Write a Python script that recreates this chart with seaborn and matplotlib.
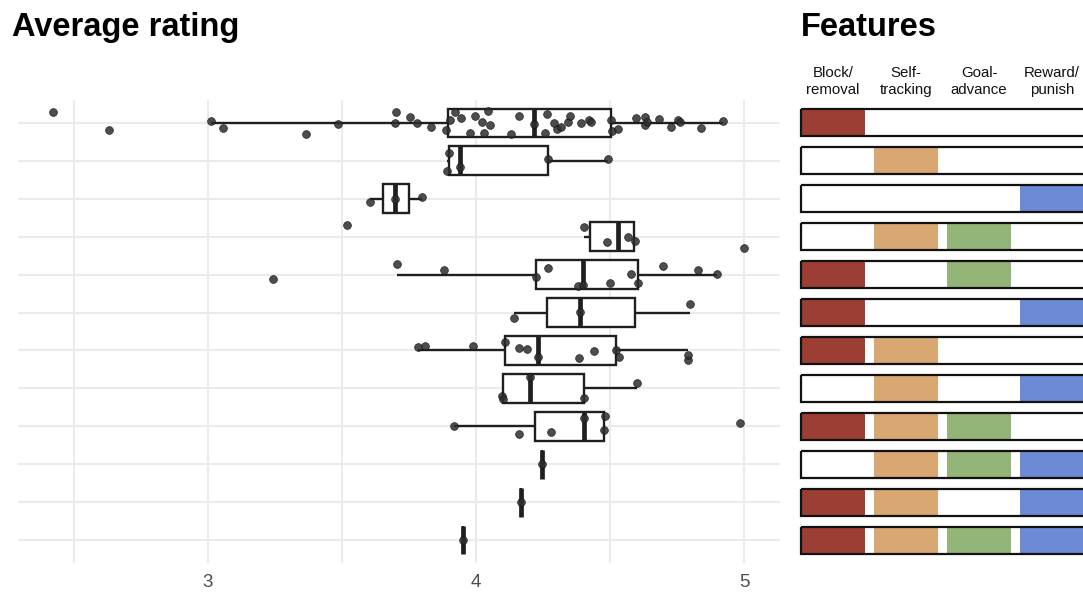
import numpy as np
import pandas as pd
import matplotlib
matplotlib.use("Agg")
import matplotlib.pyplot as plt
import matplotlib.transforms as mtransforms
import seaborn as sns

# ---- data -------------------------------------------------------------
features = ["Block/\nremoval", "Self-\ntracking", "Goal-\nadvance", "Reward/\npunish"]
feature_colors = ["#9C3E33", "#D8A772", "#93B577", "#6D8AD6"]

# which features each app combination has (Block, Self, Goal, Reward)
combos = [
    ("block", [1, 0, 0, 0]),
    ("track", [0, 1, 0, 0]),
    ("reward", [0, 0, 0, 1]),
    ("track+goal", [0, 1, 1, 0]),
    ("block+goal", [1, 0, 1, 0]),
    ("block+reward", [1, 0, 0, 1]),
    ("block+track", [1, 1, 0, 0]),
    ("track+reward", [0, 1, 0, 1]),
    ("block+track+goal", [1, 1, 1, 0]),
    ("track+goal+reward", [0, 1, 1, 1]),
    ("block+track+reward", [1, 1, 0, 1]),
    ("all", [1, 1, 1, 1]),
]

# average app rating per combination
r_block = [2.421, 2.632, 3.01, 3.057, 3.368, 3.486, 3.699, 3.703, 3.755, 3.781,
           3.833, 3.890, 3.905, 3.923, 3.946, 3.979, 3.995, 4.021, 4.031, 4.046,
           4.052, 4.132, 4.161, 4.215, 4.258, 4.265, 4.292, 4.303, 4.317, 4.345,
           4.350, 4.390, 4.423, 4.428, 4.502, 4.509, 4.528, 4.596, 4.629, 4.629,
           4.639, 4.682, 4.729, 4.752, 4.761, 4.841, 4.92]
r_track = [3.893, 3.899, 3.941, 4.267, 4.492]
r_reward = [3.605, 3.699, 3.799]
r_track_goal = [3.52, 4.404, 4.49, 4.566, 4.595, 5.0]
r_block_goal = [3.244, 3.707, 3.881, 4.224, 4.268, 4.38, 4.399, 4.501, 4.58,
                4.603, 4.699, 4.828, 4.898]
r_block_reward = [4.143, 4.387, 4.80]
r_block_track = [3.784, 3.811, 3.989, 4.109, 4.16, 4.19, 4.232, 4.384, 4.441,
                 4.523, 4.533, 4.791, 4.791]
r_track_reward = [4.096, 4.102, 4.203, 4.404, 4.602]
r_block_track_goal = [3.919, 4.161, 4.281, 4.404, 4.476, 4.48, 4.983]
r_track_goal_reward = [4.245]
r_block_track_reward = [4.167]
r_all = [3.953]

ratings = [r_block, r_track, r_reward, r_track_goal, r_block_goal, r_block_reward,
           r_block_track, r_track_reward, r_block_track_goal, r_track_goal_reward,
           r_block_track_reward, r_all]

x_ticks = [3, 4, 5]
x_minor = [2.5, 3.5, 4.5]

order = [name for name, _ in combos]
df = pd.DataFrame({
    "combo": [name for (name, _), vals in zip(combos, ratings) for _ in vals],
    "rating": [v for vals in ratings for v in vals],
})

# ---- figure -----------------------------------------------------------
plt.rcParams["font.family"] = ["Liberation Sans", "DejaVu Sans"]
W, H = 1083, 593
fig = plt.figure(figsize=(W / 100, H / 100), dpi=100)

ax = fig.add_axes([18 / W, 1 - 563 / H, (780 - 18) / W, (563 - 100) / H])
ax2 = fig.add_axes([801 / W, 1 - 563 / H, 292 / W, (563 - 100) / H])

grid_col = "#EBEBEB"
line_col = "#1f1f1f"

sns.boxplot(data=df, x="rating", y="combo", order=order, orient="h",
            whis=1.5, showfliers=False, width=0.75, color="white",
            linecolor=line_col, linewidth=1.7,
            medianprops={"linewidth": 3.4, "color": line_col},
            capprops={"visible": False}, ax=ax, zorder=2)

np.random.seed(7)
sns.stripplot(data=df, x="rating", y="combo", order=order, orient="h",
              jitter=0.32, size=5.6, color="#2e2e2e", alpha=0.85,
              edgecolor="#111111", linewidth=0.5, ax=ax, zorder=3)

ax.set_xlim(2.292, 5.134)
ax.set_ylim(len(order) - 0.4, -0.6)
ax.set_xticks(x_ticks)
ax.set_xticks(x_minor, minor=True)
ax.set_xticklabels([str(t) for t in x_ticks])
ax.set_yticklabels([])
ax.set_xlabel("")
ax.set_ylabel("")
ax.tick_params(axis="both", which="both", length=0)
ax.tick_params(axis="x", labelsize=13.5, colors="#4D4D4D", pad=8)
ax.grid(True, axis="both", which="both", color=grid_col, linewidth=1.5, zorder=0)
ax.set_axisbelow(True)
for s in ax.spines.values():
    s.set_visible(False)

# ---- feature matrix ---------------------------------------------------
rows = np.arange(len(combos))
cell_w = 0.877
row_h = 0.71
for j, (feat, col) in enumerate(zip(features, feature_colors)):
    on = [i for i, (_, flags) in enumerate(combos) if flags[j]]
    ax2.barh(on, cell_w, left=j, height=row_h, color=col, linewidth=0, zorder=2)
ax2.barh(rows, len(features), left=0, height=row_h, fill=False,
         edgecolor="#111111", linewidth=1.6, zorder=3, clip_on=False)

ax2.set_xlim(0, len(features))
ax2.set_ylim(len(order) - 0.4, -0.6)
ax2.axis("off")

hdr_tr = mtransforms.blended_transform_factory(ax2.transData, fig.transFigure)
for j, feat in enumerate(features):
    ax2.text(j + cell_w / 2, 1 - 81.5 / H, feat, transform=hdr_tr,
             ha="center", va="center", fontsize=10.8, linespacing=1.3,
             color="#111111")

fig.text(12 / W, 1 - 36 / H, "Average rating", fontsize=23.5, fontweight="bold",
         va="baseline", ha="left")
fig.text(801 / W, 1 - 36 / H, "Features", fontsize=23.5, fontweight="bold",
         va="baseline", ha="left")

fig.savefig("out.png", dpi=100)
